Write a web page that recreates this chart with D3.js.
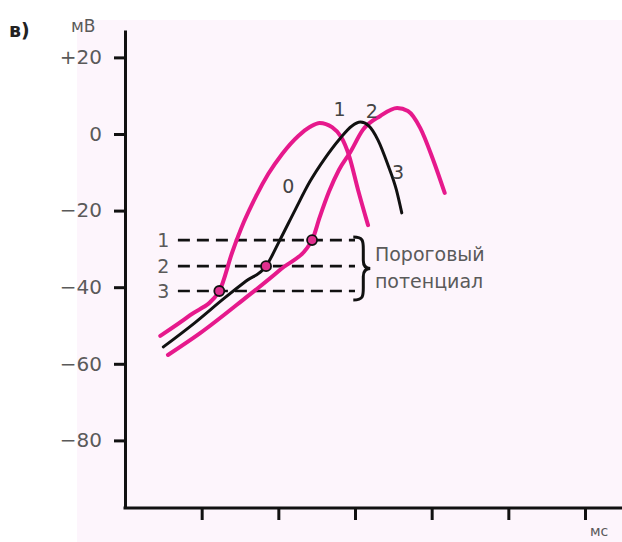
<!DOCTYPE html>
<html>
<head>
<meta charset="utf-8">
<script src="https://cdn.jsdelivr.net/npm/d3@7"></script>
<style>
  html, body { margin: 0; padding: 0; background: #ffffff; }
  svg { display: block; }
  text { font-family: "DejaVu Sans", sans-serif; }
</style>
</head>
<body>
<svg id="chart" width="622" height="542"></svg>
<script>
// Membrane potential (mV) against time (ms) for three action potentials
// with different threshold potentials.
const yTicks = [20, 0, -20, -40, -60, -80];
const yTickLabels = ["+20", "0", "\u221220", "\u221240", "\u221260", "\u221280"];
const xTicks = [1, 2, 3, 4, 5, 6];

// Threshold levels (mV) and their labels
const thresholdNames = ["1", "2", "3"];
const thresholdValues = [-27.7, -34.5, -41.0];

// Lowered threshold (level 3) — left magenta curve
const lowTime    = [0.46, 0.85, 1.23, 1.40, 1.55, 1.71, 1.87, 2.05, 2.26, 2.41, 2.54, 2.70, 2.82, 2.92, 3.04, 3.17];
const lowVoltage = [-52.7, -47.3, -41.0, -30.8, -23.0, -16.2, -10.4, -5.2, -0.5, 1.8, 2.9, 1.8, -0.8, -5.5, -14.6, -23.8];

// Normal threshold (level 2) — black curve
const normTime    = [0.50, 0.91, 1.30, 1.58, 1.84, 2.02, 2.22, 2.41, 2.61, 2.80, 2.96, 3.07, 3.18, 3.30, 3.43, 3.54, 3.61];
const normVoltage = [-55.6, -49.3, -42.8, -38.4, -34.5, -27.7, -19.8, -12.5, -6.3, -1.3, 2.1, 3.1, 2.1, -1.6, -8.1, -14.6, -20.6];

// Raised threshold (level 1) — right magenta curve
const highTime    = [0.56, 0.98, 1.54, 2.02, 2.44, 2.54, 2.66, 2.79, 2.94, 3.10, 3.33, 3.55, 3.69, 3.85, 4.02, 4.17];
const highVoltage = [-57.7, -52.0, -43.3, -35.5, -27.7, -21.7, -15.1, -9.4, -4.7, 1.0, 4.7, 6.8, 6.0, 1.6, -6.8, -15.4];

// Points where each curve crosses its threshold
const crossTime    = [1.23, 1.84, 2.44];
const crossVoltage = [-41.0, -34.5, -27.7];

// Phase labels of the action potential
const phaseNames   = ["0", "1", "2", "3"];
const phaseTime    = [2.13, 2.80, 3.22, 3.56];
const phaseVoltage = [-13.5, 6.5, 6.0, -10.0];

const magenta = "#e6198c";
const grey = "#5a5a5a";

const svg = d3.select("#chart");

const x = d3.scaleLinear().domain([0, 6]).range([125, 585]);
const y = d3.scaleLinear().domain([-97.65, 27.15]).range([508, 30]);

// tinted plotting field
svg.append("rect")
  .attr("x", 77).attr("y", 20)
  .attr("width", 622 - 77).attr("height", 542 - 20)
  .attr("fill", "#fdf5fc");

// Y axis
const yAxis = d3.axisLeft(y)
  .tickValues(yTicks)
  .tickFormat((d, i) => yTickLabels[i])
  .tickSizeInner(11).tickSizeOuter(0).tickPadding(12);
const gy = svg.append("g").attr("transform", `translate(${x(0)},0)`).call(yAxis);
gy.select(".domain").attr("stroke", "#111").attr("stroke-width", 3);
gy.selectAll(".tick line").attr("stroke", "#111").attr("stroke-width", 3);
gy.selectAll(".tick text")
  .attr("fill", grey).attr("font-size", 20)
  .style("font-family", "DejaVu Sans, sans-serif");

// X axis
const xAxis = d3.axisBottom(x)
  .tickValues(xTicks)
  .tickFormat("")
  .tickSizeInner(12).tickSizeOuter(0);
const gx = svg.append("g").attr("transform", `translate(0,${y.range()[0]})`).call(xAxis);
gx.select(".domain").attr("d", `M${x(0) - 1.5},0H622`).attr("stroke", "#111").attr("stroke-width", 3);
gx.selectAll(".tick line").attr("stroke", "#111").attr("stroke-width", 3);

// axis titles
svg.append("text").attr("x", 71).attr("y", 32)
  .attr("fill", grey).attr("font-size", 17).text("мВ");
svg.append("text").attr("x", 590).attr("y", 536)
  .attr("fill", grey).attr("font-size", 14).text("мс");
svg.append("text").attr("x", 9).attr("y", 37)
  .attr("fill", "#222").attr("font-size", 19).attr("font-weight", "bold").text("в)");

// threshold dashed lines
thresholdValues.forEach((v, i) => {
  svg.append("line")
    .attr("x1", x(0.69)).attr("x2", x(3.0))
    .attr("y1", y(v)).attr("y2", y(v))
    .attr("stroke", "#111").attr("stroke-width", 2.6)
    .attr("stroke-dasharray", "12,7");
  svg.append("text")
    .attr("x", x(0.50)).attr("y", y(v))
    .attr("dy", "0.36em")
    .attr("text-anchor", "middle")
    .attr("fill", grey).attr("font-size", 19)
    .text(thresholdNames[i]);
});

// brace grouping the threshold levels
const bx = x(3.03), by0 = y(thresholdValues[0]) - 3, by1 = y(thresholdValues[2]) + 9;
const bm = (by0 + by1) / 2;
svg.append("path")
  .attr("d", `M${bx - 4},${by0} C${bx + 6},${by0} ${bx + 6},${by0 + 4} ${bx + 6},${by0 + 12}
              L${bx + 6},${bm - 8} C${bx + 6},${bm - 2} ${bx + 9},${bm} ${bx + 13},${bm}
              C${bx + 9},${bm} ${bx + 6},${bm + 2} ${bx + 6},${bm + 8}
              L${bx + 6},${by1 - 12} C${bx + 6},${by1 - 4} ${bx + 6},${by1} ${bx - 4},${by1}`)
  .attr("fill", "none").attr("stroke", "#111").attr("stroke-width", 3);

svg.append("text").attr("x", x(3.26)).attr("y", y(-33.2))
  .attr("fill", grey).attr("font-size", 19).text("Пороговый");
svg.append("text").attr("x", x(3.26)).attr("y", y(-40.2))
  .attr("fill", grey).attr("font-size", 19).text("потенциал");

// curves
const line = d3.line()
  .x(d => x(d[0])).y(d => y(d[1]))
  .curve(d3.curveMonotoneX);

const curves = [
  { t: highTime, v: highVoltage, color: magenta, w: 4 },
  { t: lowTime,  v: lowVoltage,  color: magenta, w: 4 },
  { t: normTime, v: normVoltage, color: "#111",  w: 3 }
];
curves.forEach(c => {
  svg.append("path")
    .datum(d3.zip(c.t, c.v))
    .attr("d", line)
    .attr("fill", "none")
    .attr("stroke", c.color)
    .attr("stroke-width", c.w)
    .attr("stroke-linecap", "round")
    .attr("stroke-linejoin", "round");
});

// threshold crossing points
svg.selectAll("circle.cross")
  .data(d3.zip(crossTime, crossVoltage))
  .join("circle")
  .attr("class", "cross")
  .attr("cx", d => x(d[0])).attr("cy", d => y(d[1]))
  .attr("r", 5)
  .attr("fill", "#e0308f").attr("stroke", "#111").attr("stroke-width", 1.8);

// phase labels
phaseNames.forEach((n, i) => {
  svg.append("text")
    .attr("x", x(phaseTime[i])).attr("y", y(phaseVoltage[i]))
    .attr("dy", "0.36em").attr("text-anchor", "middle")
    .attr("fill", "#444").attr("font-size", 19)
    .text(n);
});
</script>
</body>
</html>
